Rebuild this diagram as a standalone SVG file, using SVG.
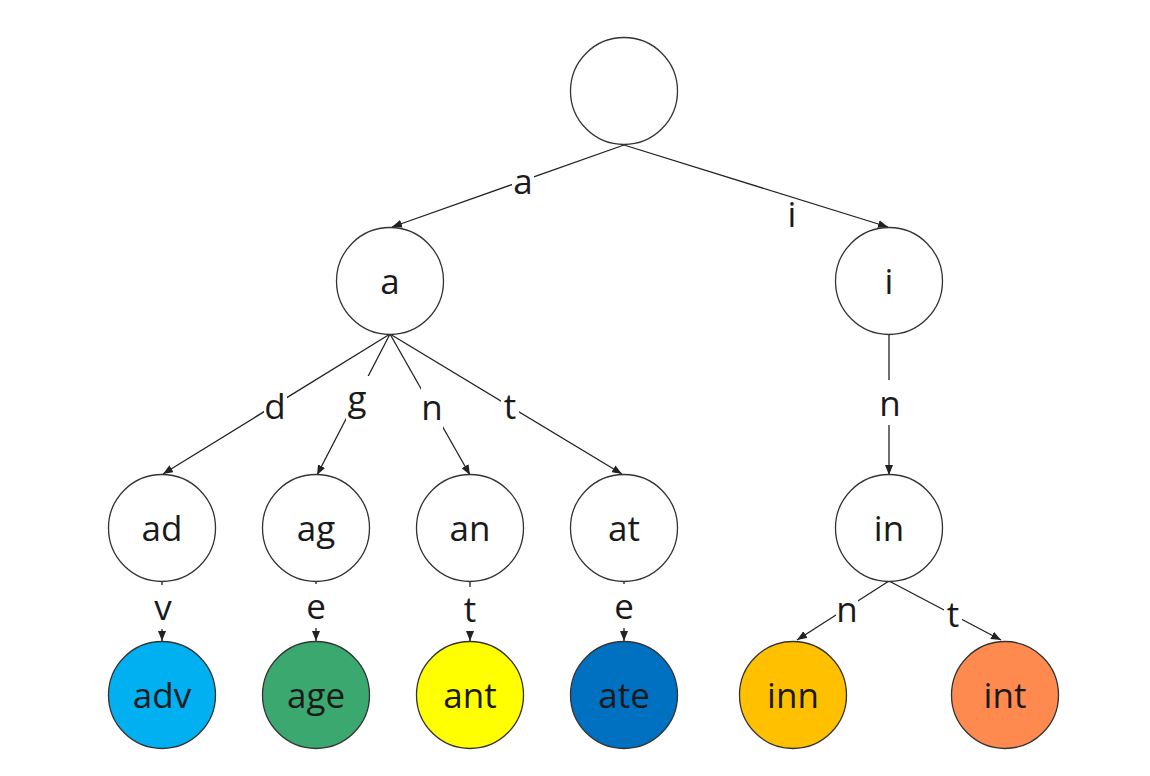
<svg xmlns="http://www.w3.org/2000/svg" width="1150" height="776" viewBox="0 0 1150 776">
  <style>
    .node { stroke: #333; stroke-width: 1.3; }
    .plain { fill: #ffffff; }
    .edge { stroke: #222; stroke-width: 1.3; fill: none; marker-end: url(#arrow); }
    .lbl-bg { fill: #ffffff; }
    text { font-family: "Open Sans", "Noto Sans", "DejaVu Sans", sans-serif; font-size: 35px; fill: #1a1a1a; text-anchor: middle; }
  </style>
  <defs>
    <marker id="arrow" markerUnits="userSpaceOnUse" markerWidth="10" markerHeight="8" refX="10" refY="4" orient="auto">
      <path d="M0,0 L10,4 L0,8 z" fill="#222"/>
    </marker>
  </defs>
  <rect width="1150" height="776" fill="#ffffff"/>

  <!-- trie edges, each labelled with the character it consumes -->
  <g id="connectors">
    <line class="edge" x1="624" y1="145" x2="392" y2="227"/>
    <line class="edge" x1="624" y1="145" x2="888" y2="227"/>
    <line class="edge" x1="390" y1="334" x2="163" y2="474"/>
    <line class="edge" x1="390" y1="334" x2="317" y2="475"/>
    <line class="edge" x1="390" y1="334" x2="470" y2="475"/>
    <line class="edge" x1="390" y1="334" x2="622" y2="474"/>
    <line class="edge" x1="889" y1="334" x2="889" y2="475"/>
    <line class="edge" x1="162" y1="581" x2="162" y2="641"/>
    <line class="edge" x1="316" y1="581" x2="316" y2="641"/>
    <line class="edge" x1="470" y1="581" x2="470" y2="641"/>
    <line class="edge" x1="624" y1="581" x2="624" y2="641"/>
    <line class="edge" x1="889" y1="581" x2="797" y2="640"/>
    <line class="edge" x1="889" y1="581" x2="1001" y2="640"/>

    <!-- label backings -->
    <rect class="lbl-bg" x="512" y="158" width="22" height="45"/>
    <rect class="lbl-bg" x="264" y="383" width="23" height="45"/>
    <rect class="lbl-bg" x="346" y="376" width="23" height="45"/>
    <rect class="lbl-bg" x="421" y="384" width="22" height="45"/>
    <rect class="lbl-bg" x="501" y="383" width="18" height="45"/>
    <rect class="lbl-bg" x="879" y="380" width="22" height="45"/>
    <rect class="lbl-bg" x="152" y="585" width="21" height="44"/>
    <rect class="lbl-bg" x="305" y="584" width="22" height="44"/>
    <rect class="lbl-bg" x="461" y="587" width="18" height="44"/>
    <rect class="lbl-bg" x="613" y="584" width="22" height="44"/>
    <rect class="lbl-bg" x="836" y="586" width="22" height="45"/>
    <rect class="lbl-bg" x="944" y="591" width="18" height="45"/>

    <text x="523" y="194">a</text>
    <text x="792" y="227">i</text>
    <text x="275" y="419">d</text>
    <text x="357" y="411">g</text>
    <text x="432" y="420">n</text>
    <text x="510" y="419">t</text>
    <text x="890" y="416">n</text>
    <text x="163" y="620">v</text>
    <text x="316" y="619">e</text>
    <text x="470" y="622">t</text>
    <text x="624" y="619">e</text>
    <text x="847" y="622">n</text>
    <text x="953" y="627">t</text>
  </g>

  <g id="node-root"><circle class="node plain" cx="624" cy="91" r="53.5"/></g>
  <g id="node-a"><circle class="node plain" cx="390" cy="281" r="53.5"/><text x="390" y="294">a</text></g>
  <g id="node-i"><circle class="node plain" cx="889" cy="281" r="53.5"/><text x="889" y="294">i</text></g>
  <g id="node-ad"><circle class="node plain" cx="162" cy="528" r="53.5"/><text x="162" y="541">ad</text></g>
  <g id="node-ag"><circle class="node plain" cx="316" cy="528" r="53.5"/><text x="316" y="541">ag</text></g>
  <g id="node-an"><circle class="node plain" cx="470" cy="528" r="53.5"/><text x="470" y="541">an</text></g>
  <g id="node-at"><circle class="node plain" cx="624" cy="528" r="53.5"/><text x="624" y="541">at</text></g>
  <g id="node-in"><circle class="node plain" cx="889" cy="528" r="53.5"/><text x="889" y="541">in</text></g>

  <g id="node-adv"><circle class="node" fill="#00B0F0" cx="162" cy="695" r="53.5"/><text x="162" y="708">adv</text></g>
  <g id="node-age"><circle class="node" fill="#3BA96F" cx="316" cy="695" r="53.5"/><text x="316" y="708">age</text></g>
  <g id="node-ant"><circle class="node" fill="#FFFF00" cx="470" cy="695" r="53.5"/><text x="470" y="708">ant</text></g>
  <g id="node-ate"><circle class="node" fill="#0070C0" cx="624" cy="695" r="53.5"/><text x="624" y="708">ate</text></g>
  <g id="node-inn"><circle class="node" fill="#FFC000" cx="793" cy="695" r="53.5"/><text x="793" y="708">inn</text></g>
  <g id="node-int"><circle class="node" fill="#FF8A50" cx="1005" cy="695" r="53.5"/><text x="1005" y="708">int</text></g>
</svg>
